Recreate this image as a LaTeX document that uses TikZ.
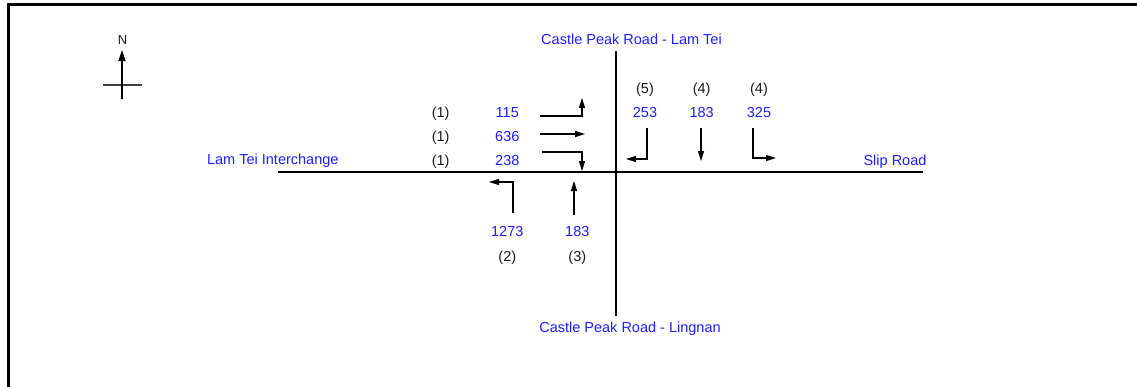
\documentclass[tikz,border=0pt]{standalone}
\usepackage{fontspec}
\setmainfont{Liberation Sans}
\usetikzlibrary{arrows.meta}
\definecolor{lblue}{RGB}{30,30,255}
\begin{document}
\begin{tikzpicture}[x=1pt,y=-1pt,
  txt/.style={inner sep=0pt,anchor=base,font=\fontsize{14.5}{16}\selectfont},
  blu/.style={txt,text=lblue},
  blk/.style={txt,text=black!90},
  road/.style={line width=2pt,black},
  frame/.style={line width=2.5pt,black},
  flow/.style={line width=1.3pt,black,-{Triangle[length=10pt,width=6pt]}},
  compass/.style={line width=1.3pt,black!75}]
\useasboundingbox (0,0) rectangle (1137,386);
% frame
\coordinate (fbl) at (8.5,387);
\coordinate (ftl) at (8.5,4.5);
\coordinate (ftr) at (1137,4.5);
\draw[frame] (fbl) -- (ftl) -- (ftr);
% compass
\node[blk,font=\fontsize{13}{14}\selectfont] (N) at (122.5,44.3) {N};
\coordinate (nb) at (122,99);
\coordinate (nt) at (122,50);
\coordinate (nl) at (103,85);
\coordinate (nr) at (142,85);
\draw[compass] (nl) -- (nr);
\draw[line width=1.3pt,black,-{Triangle[length=11pt,width=7pt]}] (nb) -- (nt);
% roads
\coordinate (rN) at (616,51);
\coordinate (rS) at (616,316);
\coordinate (rW) at (278,172);
\coordinate (rE) at (923,172);
\draw[road] (rN) -- (rS);
\draw[road] (rW) -- (rE);
% road names
\node[blu] (lamtei) at (631.5,44) {Castle Peak Road - Lam Tei};
\node[blu] (lingnan) at (630,332.7) {Castle Peak Road - Lingnan};
\node[blu] (interchange) at (272.8,164) {Lam Tei Interchange};
\node[blu] (slip) at (895,165) {Slip Road};
% west approach
\node[blk] (w1a) at (440.7,117.3) {(1)};
\node[blk] (w1b) at (440.7,141) {(1)};
\node[blk] (w1c) at (440.7,165) {(1)};
\node[blu] (w115) at (507.3,117.3) {115};
\node[blu] (w636) at (507.3,141) {636};
\node[blu] (w238) at (507.3,165) {238};
\coordinate (a1s) at (540,116);
\coordinate (a1m) at (582,116);
\coordinate (a1e) at (582,98);
\draw[flow] (a1s) -- (a1m) -- (a1e);
\coordinate (a2s) at (540,134);
\coordinate (a2e) at (585,134);
\draw[flow] (a2s) -- (a2e);
\coordinate (a3s) at (542,152);
\coordinate (a3m) at (582,152);
\coordinate (a3e) at (582,171);
\draw[flow] (a3s) -- (a3m) -- (a3e);
% north approach
\node[blk] (n5) at (645,93) {(5)};
\node[blk] (n4a) at (701.7,93) {(4)};
\node[blk] (n4b) at (759,93) {(4)};
\node[blu] (n253) at (645,117.3) {253};
\node[blu] (n183) at (701.7,117.3) {183};
\node[blu] (n325) at (759,117.3) {325};
\coordinate (b1s) at (647,128);
\coordinate (b1m) at (647,159);
\coordinate (b1e) at (626,159);
\draw[flow] (b1s) -- (b1m) -- (b1e);
\coordinate (b2s) at (701,128);
\coordinate (b2e) at (701,161);
\draw[flow] (b2s) -- (b2e);
\coordinate (b3s) at (753,128);
\coordinate (b3m) at (753,158);
\coordinate (b3e) at (776,158);
\draw[flow] (b3s) -- (b3m) -- (b3e);
% south approach
\node[blu] (s1273) at (507.3,236.7) {1273};
\node[blu] (s183) at (577.3,236.7) {183};
\node[blk] (s2) at (507.3,261.5) {(2)};
\node[blk] (s3) at (577.3,261.5) {(3)};
\coordinate (c1s) at (513,213);
\coordinate (c1m) at (513,182);
\coordinate (c1e) at (489,182);
\draw[flow] (c1s) -- (c1m) -- (c1e);
\coordinate (c2s) at (574,215);
\coordinate (c2e) at (574,181);
\draw[flow] (c2s) -- (c2e);
\end{tikzpicture}
\end{document}
